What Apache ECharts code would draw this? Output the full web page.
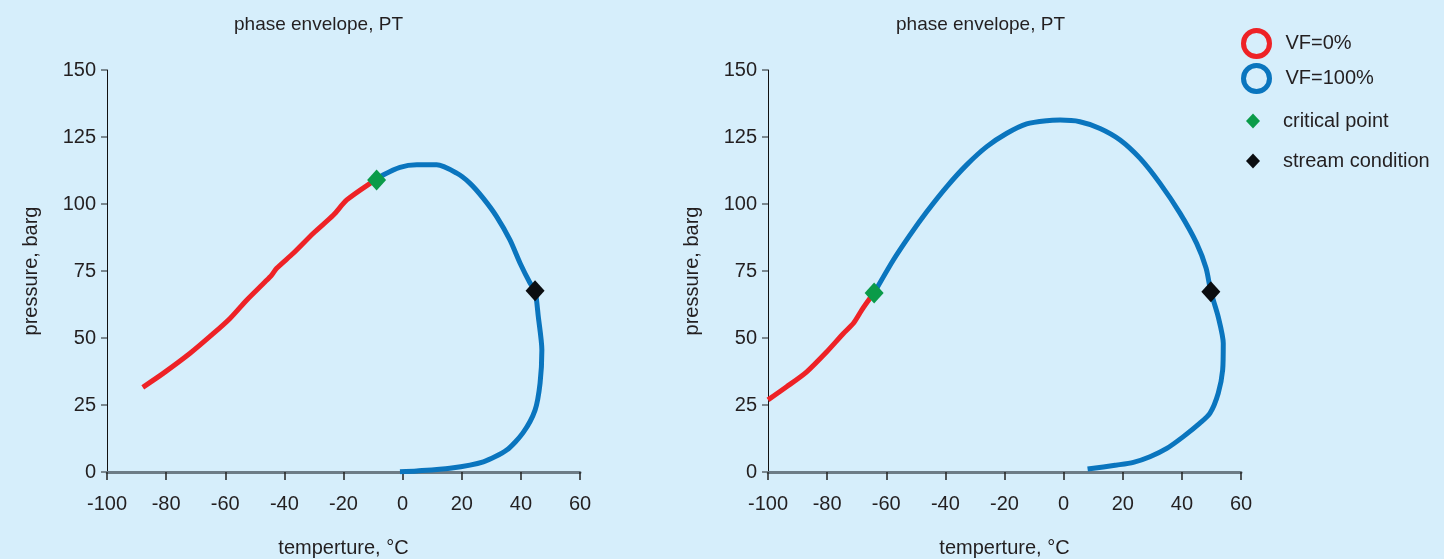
<!DOCTYPE html>
<html>
<head>
<meta charset="utf-8">
<script src="https://cdn.jsdelivr.net/npm/echarts@6/dist/echarts.min.js"></script>
<style>
html,body{margin:0;padding:0;background:#d6eefb;}
#c{width:1444px;height:559px;}
</style>
</head>
<body>
<div id="c"></div>
<script>
// ---- data (temperature °C, pressure barg) ----
var leftVF0 = [[-87.9,31.6],[-81.0,36.8],[-71.9,44.3],[-64.0,51.7],[-58.4,57.3],[-52.7,64.2],[-46.5,71.0],[-44.3,73.5],[-42.6,76.0],[-37.0,81.6],[-30.2,89.1],[-23.4,95.9],[-18.9,101.5],[-11.0,107.7],[-8.8,109.0]];
var leftVF100 = [[-8.8,109.0],[-6.6,110.8],[-0.9,113.7],[4.8,114.6],[11.5,114.6],[18.3,111.5],[22.8,107.7],[27.3,102.1],[31.8,95.3],[36.3,86.6],[39.7,78.0],[43.1,70.5],[44.8,67.6],[45.9,57.9],[47.1,45.5],[46.5,33.2],[44.8,23.1],[40.7,14.6],[35.2,8.2],[27.3,3.8],[16.0,1.4],[4.8,0.4],[-0.9,0.1]];
var leftCritical = [[-8.8,109.0]];
var leftStream = [[44.8,67.6]];
var rightVF0 = [[-100,26.9],[-93.7,31.8],[-86.9,37.4],[-80.1,44.9],[-74.5,51.7],[-71.1,55.5],[-68.3,60.4],[-65.5,64.8],[-64.1,66.8]];
var rightVF100 = [[-64.1,66.8],[-57.6,79.1],[-52.0,88.4],[-46.3,97.1],[-39.5,106.5],[-32.8,114.6],[-26.0,121.4],[-19.2,126.4],[-12.5,129.9],[-5.7,131.1],[-1.2,131.3],[5.5,130.7],[12.3,128.2],[19.1,123.9],[25.8,117.1],[32.6,107.7],[39.4,96.5],[45.0,85.3],[48.2,76.0],[49.8,67.3],[52.3,57.9],[54.0,48.0],[53.8,38.1],[52.3,29.4],[49.5,21.9],[46.1,18.2],[40.5,13.2],[34.9,8.8],[29.2,5.7],[23.6,3.6],[18.0,2.6],[8.1,1.1]];
var rightCritical = [[-64.1,66.8]];
var rightStream = [[49.8,67.3]];
var chartTitle = 'phase envelope, PT';
var xName = 'temperture, °C';
var yName = 'pressure, barg';
var legendNames = ['VF=0%','VF=100%','critical point','stream condition'];

var FONT = '"Liberation Sans", Arial, sans-serif';
var TXT = '#231f20';
var RED = '#ee2226', BLUE = '#0a75be', GREEN = '#0a9b49', BLACK = '#0b0d10';

function xAxis(gi){
  return {
    type:'value', gridIndex:gi, min:-100, max:60, interval:20,
    name:xName, nameLocation:'middle', nameGap:66,
    nameTextStyle:{fontFamily:FONT,fontSize:20,color:TXT},
    axisLine:{show:true,onZero:false,lineStyle:{color:'#6d7c86',width:3}},
    axisTick:{show:true,length:8,lineStyle:{color:'#222',width:1.5}},
    axisLabel:{margin:22,fontFamily:FONT,fontSize:20,color:TXT},
    splitLine:{show:false}
  };
}
function yAxis(gi){
  return {
    type:'value', gridIndex:gi, min:0, max:150, interval:25,
    name:yName, nameLocation:'middle', nameGap:66,
    nameTextStyle:{fontFamily:FONT,fontSize:20,color:TXT},
    axisLine:{show:true,onZero:false,lineStyle:{color:'#111',width:1}},
    axisTick:{show:true,length:6,lineStyle:{color:'#7a8890',width:2}},
    axisLabel:{margin:11,fontFamily:FONT,fontSize:20,color:TXT},
    splitLine:{show:false}
  };
}
function lineS(name,data,color,gi){
  return {name:name,type:'line',xAxisIndex:gi,yAxisIndex:gi,data:data,
    showSymbol:false,symbol:'none',smooth:0.25,
    lineStyle:{color:color,width:5},itemStyle:{color:color},z:2};
}
function pointS(name,data,color,gi){
  return {name:name,type:'scatter',xAxisIndex:gi,yAxisIndex:gi,data:data,
    symbol:'diamond',symbolSize:[19,21],itemStyle:{color:color,opacity:1},z:5};
}

var chart = echarts.init(document.getElementById('c'),null,{renderer:'canvas'});
chart.setOption({
  backgroundColor:'#d6eefb',
  animation:false,
  title:[
    {text:chartTitle,left:234,top:15,padding:0,textStyle:{fontFamily:FONT,fontSize:19,fontWeight:'normal',color:TXT}},
    {text:chartTitle,left:896,top:15,padding:0,textStyle:{fontFamily:FONT,fontSize:19,fontWeight:'normal',color:TXT}}
  ],
  legend:[
    {data:[
      {name:legendNames[0],icon:'circle',itemStyle:{color:'transparent',borderColor:RED,borderWidth:5,opacity:1}},
      {name:legendNames[1],icon:'circle',itemStyle:{color:'transparent',borderColor:BLUE,borderWidth:5,opacity:1}}
     ],
     orient:'vertical',left:1241,top:28,padding:0,itemWidth:26,itemHeight:26,itemGap:4,
     textStyle:{fontFamily:FONT,fontSize:20,color:TXT,padding:[0,0,0,11]}},
    {data:[
      {name:legendNames[2],icon:'diamond',itemStyle:{color:GREEN,opacity:1}},
      {name:legendNames[3],icon:'diamond',itemStyle:{color:BLACK,opacity:1}}
     ],
     orient:'vertical',left:1246,top:111,padding:0,itemWidth:14,itemHeight:15,itemGap:20,
     textStyle:{fontFamily:FONT,fontSize:20,color:TXT,padding:[0,0,0,18]}}
  ],
  grid:[
    {left:107,top:70,width:473,height:402,containLabel:false,outerBoundsMode:'none'},
    {left:768,top:70,width:473,height:402,containLabel:false,outerBoundsMode:'none'}
  ],
  xAxis:[xAxis(0),xAxis(1)],
  yAxis:[yAxis(0),yAxis(1)],
  series:[
    lineS(legendNames[0],leftVF0,RED,0),
    lineS(legendNames[1],leftVF100,BLUE,0),
    pointS(legendNames[2],leftCritical,GREEN,0),
    pointS(legendNames[3],leftStream,BLACK,0),
    lineS(legendNames[0],rightVF0,RED,1),
    lineS(legendNames[1],rightVF100,BLUE,1),
    pointS(legendNames[2],rightCritical,GREEN,1),
    pointS(legendNames[3],rightStream,BLACK,1)
  ]
});
</script>
</body>
</html>
